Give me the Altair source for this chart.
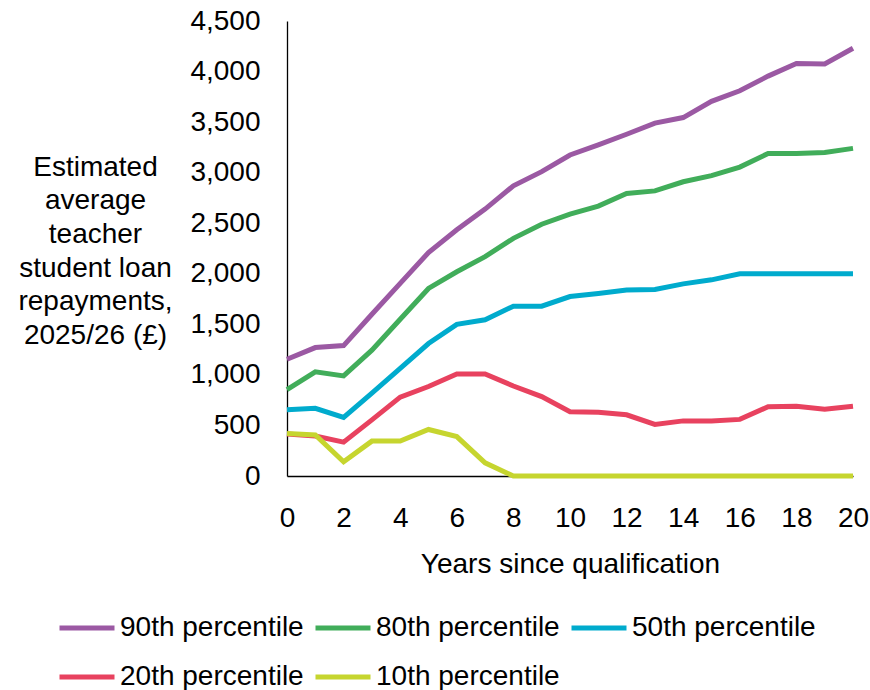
import altair as alt
import pandas as pd

# Years since qualification
years = list(range(21))

# Estimated average annual student loan repayments (£), by earnings percentile
p90 = [1155, 1270, 1290, 1600, 1905, 2210, 2435, 2640, 2870, 3010, 3175,
       3275, 3380, 3490, 3545, 3705, 3810, 3955, 4080, 4075, 4230]
p80 = [855, 1030, 990, 1245, 1550, 1855, 2020, 2170, 2350, 2490, 2590,
       2670, 2795, 2820, 2910, 2970, 3055, 3190, 3190, 3200, 3240]
p50 = [655, 670, 580, 820, 1065, 1310, 1500, 1545, 1680, 1680, 1775,
       1805, 1840, 1845, 1900, 1940, 2000, 2000, 2000, 2000, 2000]
p20 = [415, 395, 335, 555, 780, 885, 1010, 1010, 890, 785, 635,
       630, 605, 510, 545, 545, 560, 685, 690, 660, 690]
p10 = [420, 405, 140, 345, 345, 460, 390, 130, 0, 0, 0,
       0, 0, 0, 0, 0, 0, 0, 0, 0, 0]

series_names = ["90th percentile", "80th percentile", "50th percentile",
                "20th percentile", "10th percentile"]
series_values = [p90, p80, p50, p20, p10]
series_colors = ["#9b59a3", "#41ad5a", "#00abcd", "#e8425f", "#c6d52f"]

y_ticks = list(range(0, 4501, 500))
x_ticks = list(range(0, 21, 2))

rows = []
for name, vals in zip(series_names, series_values):
    for yr, v in zip(years, vals):
        rows.append({"year": yr, "repayment": v, "series": name})
df = pd.DataFrame(rows)

FONT = "Liberation Sans"

chart = alt.Chart(df).mark_line(strokeWidth=5).encode(
    x=alt.X(
        "year:Q",
        scale=alt.Scale(domain=[0, 20], nice=False, zero=False),
        axis=alt.Axis(
            title="Years since qualification",
            values=x_ticks,
            ticks=False,
            grid=False,
            labelFlush=False,
            labelPadding=28,
            labelFontSize=28,
            labelColor="#000000",
            titleFontSize=28,
            titleFontWeight="normal",
            titleColor="#000000",
            titleBaseline="alphabetic",
            titleY=96,
            domainColor="#000000",
            domainWidth=1.3,
        ),
    ),
    y=alt.Y(
        "repayment:Q",
        scale=alt.Scale(domain=[0, 4500], nice=False),
        axis=alt.Axis(
            title=["Estimated", "average", "teacher", "student loan",
                   "repayments,", "2025/26 (£)"],
            values=y_ticks,
            format=",d",
            ticks=False,
            grid=False,
            labelPadding=27,
            labelFontSize=28,
            labelColor="#000000",
            titleFontSize=28,
            titleFontWeight="normal",
            titleColor="#000000",
            titleAngle=0,
            titleAlign="center",
            titleBaseline="alphabetic",
            titleLineHeight=33.7,
            titleX=-192,
            titleY=154,
            domainColor="#000000",
            domainWidth=1.3,
        ),
    ),
    color=alt.Color(
        "series:N",
        sort=series_names,
        scale=alt.Scale(domain=series_names, range=series_colors),
        legend=alt.Legend(
            title=None,
            orient="none",
            legendX=-230,
            legendY=577,
            direction="horizontal",
            columns=3,
            symbolType="stroke",
            symbolSize=3025,
            symbolStrokeWidth=5,
            labelFontSize=28,
            labelColor="#000000",
            labelOffset=3,
            labelLimit=400,
            columnPadding=1,
            rowPadding=5,
        ),
    ),
    order=alt.Order("year:Q"),
).properties(
    width=566,
    height=455,
    autosize=alt.AutoSizeParams(type="none"),
    padding={"left": 287, "top": 21, "right": 17, "bottom": 214},
).configure(
    font=FONT,
    background="#ffffff",
).configure_view(
    stroke=None,
)

chart.save("out.html", embed_options={"renderer": "svg", "actions": False})
